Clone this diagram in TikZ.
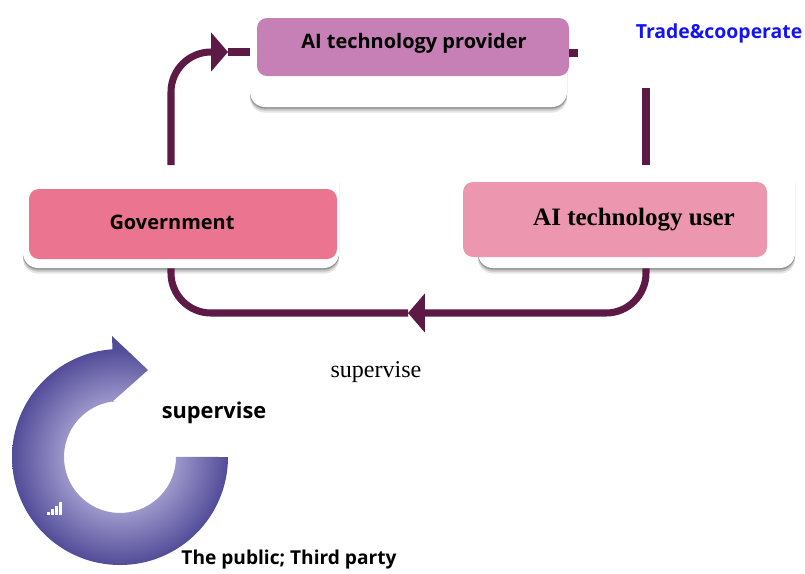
\documentclass[tikz,border=0pt]{standalone}
\usepackage{fontspec}
\setmainfont{Liberation Serif}
\newfontfamily\sansb{Open Sans}
\usetikzlibrary{arrows.meta,shadows,fit}
\definecolor{flowcol}{HTML}{5C1A45}
\definecolor{provcol}{HTML}{C680B5}
\definecolor{govcol}{HTML}{EB7590}
\definecolor{usercol}{HTML}{EC96B0}
\definecolor{ringdark}{HTML}{524C99}
\definecolor{ringlight}{HTML}{9C97CA}
\definecolor{tradeblue}{HTML}{1414F0}
\pgfdeclareradialshading{ringshade}{\pgfpointorigin}{color(0bp)=(ringlight); color(10.8bp)=(ringlight); color(20.8bp)=(ringdark); color(25bp)=(ringdark); color(50bp)=(ringdark)}
\begin{document}
\begin{tikzpicture}[x=0.025cm, y=-0.025cm,
  backbox/.style={fill=white, rounded corners=0.375cm, inner sep=0pt,
    drop shadow={shadow xshift=0cm, shadow yshift=-0.14cm, opacity=0.1, fill=black},
    drop shadow={shadow xshift=0cm, shadow yshift=-0.09cm, opacity=0.15, fill=black},
    drop shadow={shadow xshift=0cm, shadow yshift=-0.04cm, opacity=0.25, fill=black}},
  hibox/.style={rounded corners=0.25cm, inner sep=0pt},
  flow/.style={draw=flowcol, line width=5pt},
  flowtip/.style={-{Triangle[length=0.42cm, width=0.95cm]}},
  boxtext/.style={font=\sansb\bfseries\fontsize{14.2}{16}\selectfont}]
\useasboundingbox (0,0) rectangle (805,574);
% the three actors
\node[backbox, fit={(250,5) (567,107)}] (provback) {};
\node[hibox, fill=provcol, fit={(257,18) (569,76)}] (provpink) {};
\node[boxtext] (prov) at (414,43) {AI technology provider};
\node[backbox, fit={(23,165) (339,268)}] (govback) {};
\node[hibox, fill=govcol, fit={(29,189) (337,259)}] (govpink) {};
\node[boxtext] (gov) at (172,222) {Government};
\node[backbox, fit={(478,165) (795,268)}] (userback) {};
\node[hibox, fill=usercol, fit={(463,182) (767,257)}] (userpink) {};
\node[font=\bfseries\fontsize{17.8}{20}\selectfont] (user) at (634,220) {AI technology user};
% connectors
\coordinate (govtop) at (171,165);
\coordinate (tipa) at (228,52);
\draw[flow, flowtip, rounded corners=1cm] (govtop) |- (tipa);
\draw[flow] (tipa) -- (provback.west |- tipa);
\coordinate (stub) at (578,53);
\draw[flow] (provpink.east |- stub) -- (stub);
\coordinate (rtop) at (646,88);
\draw[flow] (rtop) -- (rtop |- userback.north);
\coordinate (tipb) at (408,313);
\draw[flow, flowtip, rounded corners=1cm] (userback.south -| rtop) |- (tipb);
\draw[flow, rounded corners=1cm] (tipb) -| (govback.south -| govtop);
% labels
\node[text=tradeblue, font=\sansb\bfseries\fontsize{13.8}{16}\selectfont] (trade) at (719,33) {Trade\&cooperate};
\node[font=\fontsize{17.1}{20}\selectfont] (sup1) at (376,372) {supervise};
\node[font=\sansb\bfseries\fontsize{15.5}{18}\selectfont] (sup2) at (214,413) {supervise};
\node[font=\sansb\bfseries\fontsize{13.6}{16}\selectfont] (public) at (289,560) {The public; Third party};
% circular arrow
\coordinate (ring) at (120,457);
\begin{scope}
\clip (228,457) arc[start angle=0, end angle=266, radius=108] -- (112,336) -- (148,370) -- (112,402) -- (116.1,401.1) arc[start angle=266, end angle=0, radius=56] -- cycle;
\shade[shading=ringshade] (ring) circle[radius=130];
\end{scope}
\foreach \i/\h in {0/3,1/6,2/9,3/13}
  \fill[white] (47+4*\i,515) rectangle (50+4*\i,515-\h);
\end{tikzpicture}
\end{document}
